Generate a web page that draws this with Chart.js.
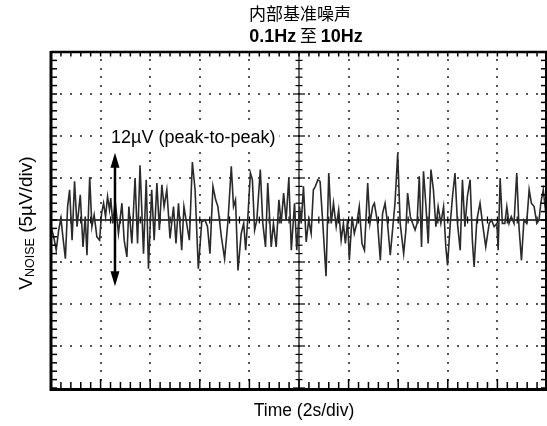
<!DOCTYPE html>
<html><head><meta charset="utf-8">
<script src="https://cdn.jsdelivr.net/npm/chart.js@4"></script>
<style>html,body{margin:0;padding:0;background:#fff;}#wrap{width:547px;height:426px;}</style>
</head><body><div id="wrap"><canvas id="c" width="547" height="426"></canvas></div>
<script>
// ---- data (time in s, noise in µV) ----
const timeSec = [0.00,0.11,0.21,0.31,0.40,0.48,0.58,0.67,0.75,0.85,0.95,1.05,1.18,1.29,1.38,1.45,1.56,1.65,1.74,1.85,1.96,2.04,2.12,2.20,2.28,2.36,2.41,2.49,2.59,2.72,2.86,2.95,3.06,3.14,3.26,3.39,3.49,3.59,3.73,3.84,3.93,4.06,4.16,4.27,4.37,4.47,4.56,4.67,4.80,4.94,5.04,5.14,5.27,5.36,5.47,5.58,5.70,5.81,5.94,6.08,6.21,6.31,6.41,6.53,6.64,6.73,6.87,7.00,7.14,7.27,7.36,7.44,7.54,7.67,7.77,7.85,7.94,8.04,8.12,8.21,8.30,8.44,8.54,8.65,8.74,8.88,8.97,9.08,9.19,9.28,9.38,9.48,9.59,9.69,9.82,9.91,10.02,10.09,10.18,10.29,10.39,10.49,10.58,10.66,10.76,10.85,10.96,11.09,11.20,11.30,11.39,11.50,11.60,11.70,11.79,11.87,11.96,12.03,12.14,12.23,12.33,12.43,12.54,12.64,12.77,12.86,12.97,13.04,13.17,13.28,13.37,13.47,13.57,13.68,13.87,13.98,14.08,14.22,14.31,14.38,14.49,14.58,14.68,14.76,14.85,14.94,15.02,15.12,15.21,15.32,15.42,15.52,15.61,15.72,15.83,15.92,15.99,16.10,16.19,16.29,16.39,16.50,16.59,16.69,16.79,16.90,16.99,17.06,17.17,17.30,17.40,17.53,17.67,17.76,17.87,17.98,18.03,18.11,18.20,18.30,18.38,18.47,18.56,18.67,18.78,18.87,18.97,19.07,19.18,19.28,19.37,19.48,19.59,19.68,19.75,19.85,19.95];
const noiseUV = [-0.8,-2.0,-3.6,-1.2,0.2,-2.0,-4.6,1.6,3.6,-2.4,4.6,-0.8,3.0,-3.2,0.4,-4.2,5.1,-0.8,0.6,-2.0,-2.4,0.8,2.0,0.4,2.8,1.2,2.6,-0.4,2.2,-1.6,2.0,-2.4,-4.4,1.6,-2.8,5.0,-2.8,6.5,-4.0,4.8,-5.8,3.6,-2.4,4.4,-1.2,4.2,1.6,3.6,-2.2,1.6,-2.8,2.0,-3.6,1.6,-0.4,-2.4,6.9,3.6,-5.8,-0.2,0.0,-0.8,-4.0,4.0,2.4,1.6,-2.0,-4.6,0.0,6.4,1.6,2.4,-6.0,-1.6,-0.4,-3.6,0.4,5.6,4.8,-1.2,0.0,6.0,-0.4,-3.2,4.4,-3.2,-0.4,-3.2,2.4,-0.4,3.2,0.0,5.0,-3.6,2.0,-3.6,1.6,-0.4,4.0,-2.6,0.0,-1.6,3.6,4.0,4.8,4.6,-0.4,-6.7,5.6,-0.4,2.0,-0.8,1.2,-2.4,-0.4,-2.8,0.0,-4.8,0.4,-1.6,-0.4,1.6,-2.8,-3.6,4.4,-0.4,1.6,2.0,-0.4,-4.8,0.8,2.0,-0.4,-4.2,2.0,7.9,-0.4,-4.0,-1.2,3.2,0.4,-0.4,-1.2,-0.4,5.2,-3.2,5.8,1.6,-2.8,6.0,3.6,-0.8,1.6,-0.4,1.6,-3.2,-5.4,-0.4,2.8,5.6,-0.4,-3.6,4.8,-0.8,2.8,4.8,-2.4,-5.6,0.0,2.0,-0.4,-3.2,-0.4,0.0,-0.8,-0.4,-3.6,5.0,-0.4,-0.4,1.6,-0.4,0.4,-0.4,5.6,-0.8,-4.8,0.0,-0.4,3.6,2.0,1.6,-0.4,0.0,2.0,3.6,0.8];
const xTicks = [0,2,4,6,8,10,12,14,16,18,20];       // 2 s/div
const yTicks = [-20,-15,-10,-5,0,5,10,15,20];       // 5 µV/div
const titleLine1 = "内部基准噪声";
const titleLine2 = ["0.1Hz", " 至 ", "10Hz"];
const xLabel = "Time (2s/div)";
const yLabelMain = "V";
const yLabelSub = "NOISE";
const yLabelRest = " (5µV/div)";
const annotText = "12µV (peak-to-peak)";
const arrowTime = 2.58;
const arrowTopUV = 8.0;
const arrowBottomUV = -7.9;

const SANS = '"Liberation Sans", Arial, sans-serif';
const CJK = '"Noto Sans CJK SC", sans-serif';

const decor = {
  id: 'decor',
  beforeDatasetsDraw(chart) {
    const ctx = chart.ctx, ca = chart.chartArea;
    const xs = chart.scales.x, ys = chart.scales.y;
    const xMinor = (xTicks[1]-xTicks[0])/5, yMinor = (yTicks[1]-yTicks[0])/5;
    ctx.save();
    // dotted graticule
    ctx.fillStyle = '#555';
    xTicks.forEach(v => {
      if (v === xTicks[0] || v === xTicks[xTicks.length-1] || v === 10) return;
      const X = Math.round(xs.getPixelForValue(v));
      for (let m = yTicks[0]+yMinor; m < yTicks[yTicks.length-1]-1e-6; m += yMinor) {
        const Y = Math.round(ys.getPixelForValue(m));
        ctx.fillRect(X-1, Y-1, 2, 2);
      }
    });
    yTicks.forEach(v => {
      if (v === yTicks[0] || v === yTicks[yTicks.length-1] || v === 0) return;
      const Y = Math.round(ys.getPixelForValue(v));
      for (let m = xTicks[0]+xMinor; m < xTicks[xTicks.length-1]-1e-6; m += xMinor) {
        const X = Math.round(xs.getPixelForValue(m));
        ctx.fillRect(X-1, Y-1, 2, 2);
      }
    });
    // center cross
    ctx.strokeStyle = '#000';
    const Y0 = ys.getPixelForValue(0), X0 = xs.getPixelForValue(10);
    ctx.lineWidth = 1.6;
    ctx.beginPath(); ctx.moveTo(ca.left, Y0); ctx.lineTo(ca.right, Y0); ctx.stroke();
    ctx.lineWidth = 1.2;
    ctx.beginPath(); ctx.moveTo(X0, ca.top); ctx.lineTo(X0, ca.bottom); ctx.stroke();
    for (let m = xTicks[0]; m <= xTicks[xTicks.length-1]+1e-6; m += xMinor) {
      const X = xs.getPixelForValue(m);
      ctx.beginPath(); ctx.moveTo(X, Y0-3.5); ctx.lineTo(X, Y0+3.5); ctx.stroke();
    }
    for (let m = yTicks[0]; m <= yTicks[yTicks.length-1]+1e-6; m += yMinor) {
      const Y = ys.getPixelForValue(m);
      const major = Math.abs(m/5 - Math.round(m/5)) < 1e-6;
      const len = major ? 6 : 3.5;
      ctx.beginPath(); ctx.moveTo(X0-len, Y); ctx.lineTo(X0+len, Y); ctx.stroke();
    }
    ctx.restore();
  },
  afterDatasetsDraw(chart) {
    const ctx = chart.ctx, ca = chart.chartArea;
    const xs = chart.scales.x, ys = chart.scales.y;
    const xMinor = (xTicks[1]-xTicks[0])/5, yMinor = (yTicks[1]-yTicks[0])/5;
    ctx.save();
    ctx.strokeStyle = '#000'; ctx.fillStyle = '#000';
    // border ticks
    ctx.lineWidth = 1.5;
    for (let m = xTicks[0]; m <= xTicks[xTicks.length-1]+1e-6; m += xMinor) {
      const X = xs.getPixelForValue(m);
      const major = Math.abs(m/2 - Math.round(m/2)) < 1e-6;
      ctx.beginPath(); ctx.moveTo(X, ca.top); ctx.lineTo(X, ca.top+4.5); ctx.stroke();
      ctx.beginPath(); ctx.moveTo(X, ca.bottom); ctx.lineTo(X, ca.bottom-(major?9:6)); ctx.stroke();
    }
    for (let m = yTicks[0]; m <= yTicks[yTicks.length-1]+1e-6; m += yMinor) {
      const Y = ys.getPixelForValue(m);
      ctx.beginPath(); ctx.moveTo(ca.left, Y); ctx.lineTo(ca.left+6, Y); ctx.stroke();
      ctx.beginPath(); ctx.moveTo(ca.right, Y); ctx.lineTo(ca.right-6, Y); ctx.stroke();
    }
    // frame
    ctx.lineWidth = 2.5;
    ctx.beginPath(); ctx.moveTo(ca.left, ca.top); ctx.lineTo(ca.right, ca.top); ctx.stroke();
    ctx.lineWidth = 2;
    ctx.beginPath(); ctx.moveTo(ca.right-1, ca.top); ctx.lineTo(ca.right-1, ca.bottom); ctx.stroke();
    ctx.lineWidth = 3;
    ctx.beginPath(); ctx.moveTo(ca.left, ca.top-1); ctx.lineTo(ca.left, ca.bottom+1.5); ctx.lineTo(ca.right, ca.bottom+1.5); ctx.stroke();

    // arrow
    const AX = xs.getPixelForValue(arrowTime);
    const AT = ys.getPixelForValue(arrowTopUV), AB = ys.getPixelForValue(arrowBottomUV);
    ctx.lineWidth = 2.5;
    ctx.beginPath(); ctx.moveTo(AX, AT+10); ctx.lineTo(AX, AB-10); ctx.stroke();
    ctx.beginPath(); ctx.moveTo(AX, AT); ctx.lineTo(AX-4.5, AT+15); ctx.lineTo(AX+4.5, AT+15); ctx.closePath(); ctx.fill();
    ctx.beginPath(); ctx.moveTo(AX, AB); ctx.lineTo(AX-4.5, AB-15); ctx.lineTo(AX+4.5, AB-15); ctx.closePath(); ctx.fill();

    // annotation text on white backing
    ctx.font = '18px ' + SANS;
    ctx.textAlign = 'left'; ctx.textBaseline = 'alphabetic';
    const aw = ctx.measureText(annotText).width;
    ctx.fillStyle = '#fff';
    ctx.fillRect(107, 126, aw + 8, 22);
    ctx.fillStyle = '#000';
    ctx.fillText(annotText, 111, 143);

    // titles
    ctx.textAlign = 'center';
    ctx.font = '17px ' + CJK;
    ctx.fillText(titleLine1, 300, 20);
    const fonts = ['bold 18px ' + SANS, '17px ' + CJK, 'bold 18px ' + SANS];
    let widths = titleLine2.map((s,i) => { ctx.font = fonts[i]; return ctx.measureText(s).width; });
    let total = widths.reduce((a,b)=>a+b,0);
    let x = 306 - total/2;
    ctx.textAlign = 'left';
    titleLine2.forEach((s,i) => { ctx.font = fonts[i]; ctx.fillText(s, x, 42); x += widths[i]; });

    // x label
    ctx.textAlign = 'center';
    ctx.font = '17.5px ' + SANS;
    ctx.fillText(xLabel, 304, 416);

    // y label (rotated)
    ctx.save();
    ctx.translate(32, 223);
    ctx.rotate(-Math.PI/2);
    ctx.textAlign = 'left';
    const f1 = '19px ' + SANS, f2 = '12.5px ' + SANS;
    ctx.font = f1; const w1 = ctx.measureText(yLabelMain).width; const w3 = ctx.measureText(yLabelRest).width;
    ctx.font = f2; const w2 = ctx.measureText(yLabelSub).width;
    let sx = -(w1+w2+w3)/2;
    ctx.font = f1; ctx.fillText(yLabelMain, sx, 0); sx += w1;
    ctx.font = f2; ctx.fillText(yLabelSub, sx, 2); sx += w2;
    ctx.font = f1; ctx.fillText(yLabelRest, sx, 0);
    ctx.restore();

    ctx.restore();
  }
};

new Chart(document.getElementById('c'), {
  type: 'line',
  data: {
    datasets: [{
      data: timeSec.map((t,i) => ({x: t, y: noiseUV[i]})),
      borderColor: '#2a2a2a',
      borderWidth: 1.6,
      pointRadius: 0,
      tension: 0,
      fill: false
    }]
  },
  options: {
    responsive: false,
    animation: false,
    layout: { padding: { left: 51, top: 52, right: 0, bottom: 38 } },
    scales: {
      x: { type: 'linear', min: xTicks[0], max: xTicks[xTicks.length-1], display: false },
      y: { type: 'linear', min: yTicks[0], max: yTicks[yTicks.length-1], display: false }
    },
    plugins: { legend: { display: false }, tooltip: { enabled: false }, title: { display: false } }
  },
  plugins: [decor]
});
</script>
</body></html>
